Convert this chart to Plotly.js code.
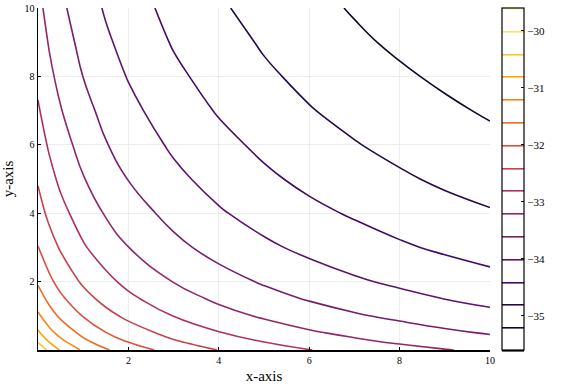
<!DOCTYPE html>
<html>
<head>
<meta charset="utf-8">
<script src="https://cdn.plot.ly/plotly-3.0.1.min.js"></script>
<style>html,body{margin:0;padding:0;background:#fff;}#chart{width:581px;height:388px;}</style>
</head>
<body>
<div id="chart"></div>
<script>
// grid coordinates
const xs = [0, 0.25, 0.5, 1, 1.5, 2, 3, 4, 5, 6, 7, 8, 9, 10];
const ys = [0, 0.25, 0.5, 1, 1.5, 2, 3, 4, 5, 6, 7, 8, 9, 10];
// z values (rows follow ys, columns follow xs), estimated from the reference contours
const z_y0   = [-30.06, -30.51, -30.83, -31.26, -31.56, -31.80, -32.15, -32.41, -32.61, -32.79, -32.93, -33.06, -33.18, -33.28];
const z_y025 = [-30.45, -30.83, -31.11, -31.51, -31.80, -32.02, -32.36, -32.61, -32.81, -32.98, -33.13, -33.26, -33.37, -33.47];
const z_y05  = [-30.73, -31.08, -31.33, -31.71, -31.99, -32.20, -32.53, -32.78, -32.98, -33.15, -33.29, -33.42, -33.53, -33.63];
const z_y1   = [-31.13, -31.44, -31.67, -32.02, -32.28, -32.49, -32.81, -33.06, -33.25, -33.42, -33.56, -33.68, -33.80, -33.90];
const z_y15  = [-31.42, -31.70, -31.93, -32.26, -32.52, -32.72, -33.03, -33.27, -33.47, -33.63, -33.77, -33.89, -34.005, -34.10];
const z_y2   = [-31.65, -31.92, -32.13, -32.46, -32.70, -32.90, -33.21, -33.45, -33.64, -33.81, -33.95, -34.07, -34.18, -34.28];
const z_y3   = [-31.99, -32.24, -32.44, -32.76, -33.00, -33.196, -33.50, -33.74, -33.93, -34.09, -34.23, -34.35, -34.46, -34.56];
const z_y4   = [-32.24, -32.49, -32.68, -32.99, -33.23, -33.42, -33.72, -33.96, -34.15, -34.31, -34.44, -34.57, -34.68, -34.77];
const z_y5   = [-32.44, -32.68, -32.88, -33.18, -33.42, -33.61, -33.91, -34.14, -34.33, -34.49, -34.63, -34.75, -34.86, -34.95];
const z_y6   = [-32.61, -32.85, -33.04, -33.34, -33.58, -33.77, -34.06, -34.29, -34.48, -34.64, -34.78, -34.90, -35.01, -35.11];
const z_y7   = [-32.76, -32.99, -33.18, -33.48, -33.71, -33.90, -34.20, -34.43, -34.62, -34.78, -34.91, -35.03, -35.14, -35.24];
const z_y8   = [-32.89, -33.12, -33.31, -33.605, -33.84, -34.02, -34.32, -34.55, -34.74, -34.89, -35.03, -35.15, -35.26, -35.36];
const z_y9   = [-33.00, -33.23, -33.42, -33.71, -33.94, -34.13, -34.43, -34.65, -34.84, -35.00, -35.14, -35.26, -35.37, -35.46];
const z_y10  = [-33.10, -33.33, -33.52, -33.81, -34.04, -34.23, -34.52, -34.75, -34.94, -35.10, -35.23, -35.35, -35.46, -35.56];
const zRows = [z_y0, z_y025, z_y05, z_y1, z_y15, z_y2, z_y3, z_y4, z_y5, z_y6, z_y7, z_y8, z_y9, z_y10];

const tickVals = [2, 4, 6, 8, 10];
const cbTicks = [-35, -34, -33, -32, -31, -30];

const inferno = [
  [0.0, '#000004'], [0.1, '#160b39'], [0.2, '#420a68'], [0.3, '#6a176e'],
  [0.4, '#932667'], [0.5, '#bc3754'], [0.6, '#dd513a'], [0.7, '#f37819'],
  [0.8, '#fca50a'], [0.9, '#f6d746'], [1.0, '#fcffa4']
];

const font = '"Liberation Serif", "Times New Roman", serif';

const trace = {
  type: 'contour',
  x: xs, y: ys, z: zRows,
  colorscale: inferno,
  contours: {coloring: 'lines', start: -35.6, end: -29.6, size: 0.4, showlabels: false},
  line: {width: 1.6, smoothing: 1.3},
  colorbar: {
    x: 1.0265, xanchor: 'left', xpad: 0,
    y: 0.5, yanchor: 'middle', ypad: 0,
    len: 1, lenmode: 'fraction',
    thickness: 22, thicknessmode: 'pixels',
    outlinecolor: '#000', outlinewidth: 1.2,
    tickmode: 'array', tickvals: cbTicks,
    ticks: 'inside', ticklen: 3, tickcolor: '#000',
    tickfont: {family: font, size: 11, color: '#000'}
  },
  hoverinfo: 'skip'
};

const axisCommon = {
  range: [0, 10],
  showline: true, linecolor: '#000', linewidth: 1.5, mirror: false,
  showgrid: true, gridcolor: '#e8e8e8', gridwidth: 0.8,
  zeroline: false,
  ticks: 'inside', ticklen: 3, tickcolor: '#000', tickwidth: 1,
  tickmode: 'array', tickvals: tickVals,
  tickfont: {family: font, size: 10, color: '#000'}
};

const layout = {
  width: 581, height: 388,
  margin: {l: 38, r: 91, t: 8, b: 38},
  paper_bgcolor: '#fff', plot_bgcolor: '#fff',
  showlegend: false,
  xaxis: Object.assign({}, axisCommon, {title: {text: 'x-axis', font: {family: font, size: 15, color: '#000'}, standoff: 6}}),
  yaxis: Object.assign({}, axisCommon, {title: {text: 'y-axis', font: {family: font, size: 15, color: '#000'}, standoff: 8}})
};

Plotly.newPlot('chart', [trace], layout, {displayModeBar: false, staticPlot: true});
</script>
</body>
</html>
